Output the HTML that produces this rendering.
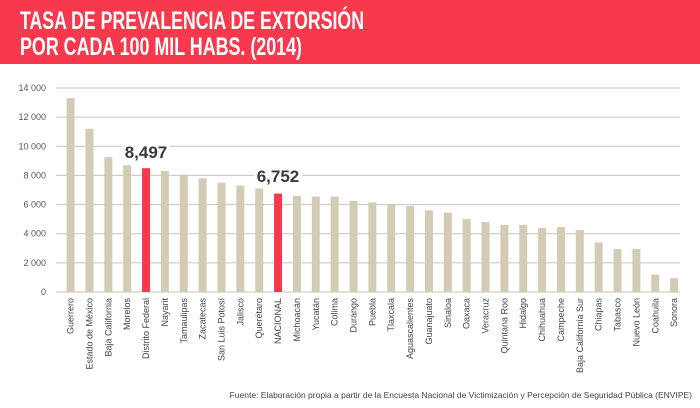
<!DOCTYPE html>
<html><head><meta charset="utf-8"><style>
body{margin:0;background:#fff;}
svg{display:block;font-family:"Liberation Sans",sans-serif;}
</style></head><body>
<svg width="700" height="408" viewBox="0 0 700 408">
<rect x="0" y="0" width="700" height="64" fill="#f7384d"/>
<text x="20" y="29" font-size="25" font-weight="bold" fill="#fff" textLength="344" lengthAdjust="spacingAndGlyphs">TASA DE PREVALENCIA DE EXTORSIÓN</text>
<text x="20" y="55" font-size="25" font-weight="bold" fill="#fff" textLength="282" lengthAdjust="spacingAndGlyphs">POR CADA 100 MIL HABS. (2014)</text>
<text x="692" y="398" font-size="8.5" fill="#444" text-anchor="end">Fuente: Elaboración propia a partir de la Encuesta Nacional de Victimización y Percepción de Seguridad Pública (ENVIPE)</text>
</svg>
<script>
var ns="http://www.w3.org/2000/svg",s=document.querySelector('svg');
function el(t,a,txt){var e=document.createElementNS(ns,t);for(var k in a)e.setAttribute(k,a[k]);if(txt!==undefined)e.textContent=txt;s.appendChild(e);return e;}
var y0=292,k=204/14000;
for(var v=0;v<=14000;v+=2000){var y=y0-v*k;el('line',{x1:56,x2:680,y1:y,y2:y,stroke:'#c4c4c4','stroke-width':1});
el('text',{x:46,y:y+3,'font-size':9,fill:'#555','text-anchor':'end'},v==0?'0':(Math.floor(v/1000)+' '+'000'));}
var d=[["Guerrero",13300],["Estado de México",11200],["Baja California",9250],["Morelos",8700],["Distrito Federal",8497],["Nayarit",8300],["Tamaulipas",8050],["Zacatecas",7800],["San Luis Potosí",7500],["Jalisco",7300],["Querétaro",7100],["NACIONAL",6752],["Michoacán",6600],["Yucatán",6550],["Colima",6550],["Durango",6250],["Puebla",6150],["Tlaxcala",6000],["Aguascalientes",5900],["Guanajuato",5600],["Sinaloa",5450],["Oaxaca",5000],["Veracruz",4800],["Quintana Roo",4600],["Hidalgo",4600],["Chihuahua",4400],["Campeche",4450],["Baja California Sur",4250],["Chiapas",3400],["Tabasco",2950],["Nuevo León",2950],["Coahuila",1200],["Sonora",950]];
d.forEach(function(r,i){var cx=70.6+i*18.86,h=r[1]*k;
el('rect',{x:cx-4,y:y0-h,width:8,height:h,fill:(i==4||i==11)?'#f7384d':'#d3cbb3'});
el('text',{transform:'translate('+(cx+3)+',298) rotate(-90)','font-size':9,fill:'#444','text-anchor':'end'},r[0]);});
el('rect',{x:122,y:143,width:48,height:18,fill:'#fff'});
el('rect',{x:254,y:167,width:48,height:18,fill:'#fff'});
el('text',{x:146,y:158,'font-size':17,'font-weight':'bold',fill:'#3a3a3a','text-anchor':'middle'},'8,497');
el('text',{x:278,y:182,'font-size':17,'font-weight':'bold',fill:'#3a3a3a','text-anchor':'middle'},'6,752');
</script>
</body></html>
